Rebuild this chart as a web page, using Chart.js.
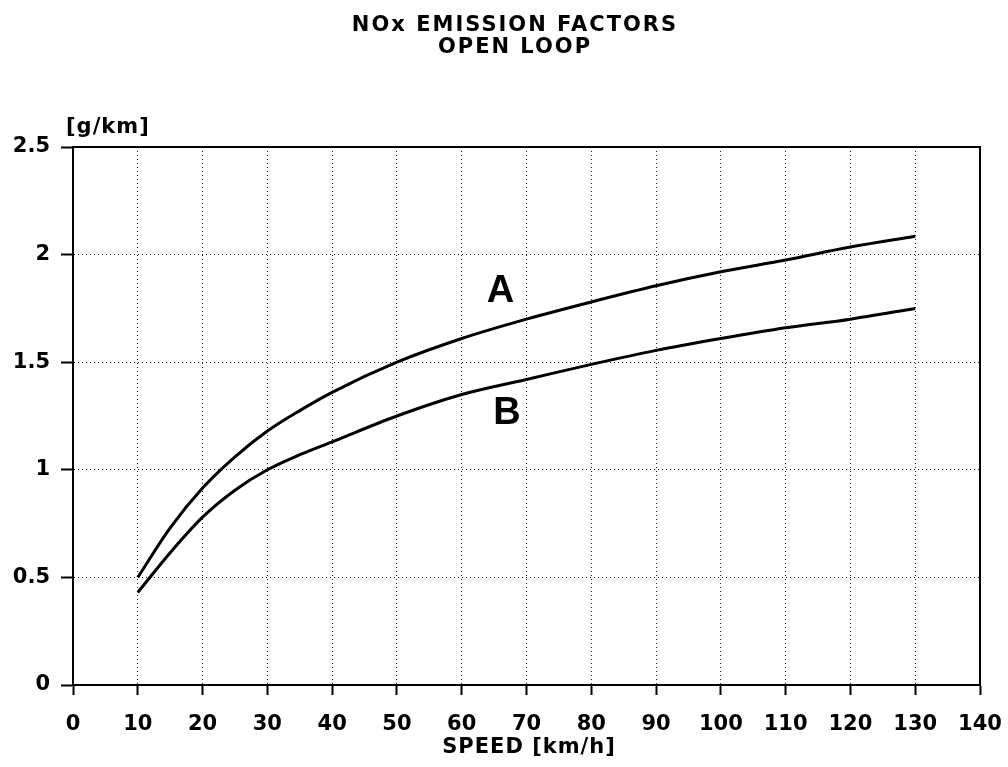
<!DOCTYPE html>
<html><head><meta charset="utf-8">
<script src="https://cdn.jsdelivr.net/npm/chart.js@4.4.0/dist/chart.umd.min.js"></script>
<style>html,body{margin:0;padding:0;background:#fff}#wrap{width:1008px;height:767px;position:relative}</style>
</head><body><div id="wrap"><canvas id="c"></canvas></div>
<script>
const speeds = [10, 15, 20, 25, 30, 35, 40, 50, 60, 70, 80, 90, 100, 110, 120, 130];
const curveA = [0.50, 0.73, 0.915, 1.06, 1.18, 1.275, 1.36, 1.50, 1.61, 1.70, 1.78, 1.855, 1.92, 1.975, 2.035, 2.085];
const curveB = [0.43, 0.615, 0.78, 0.905, 1.00, 1.07, 1.13, 1.25, 1.35, 1.42, 1.49, 1.555, 1.61, 1.66, 1.70, 1.75];
const xTicks = [0, 10, 20, 30, 40, 50, 60, 70, 80, 90, 100, 110, 120, 130, 140];
const yTicks = [0, 0.5, 1, 1.5, 2, 2.5];
const titleLines = ['NOx EMISSION FACTORS', 'OPEN LOOP'];
const xTitle = 'SPEED [km/h]';
const yTitle = '[g/km]';
const curveLabels = ['A', 'B'];
const curveLabelX = [66, 67];
const curveLabelY = [1.83, 1.26];

const FONT = '"DejaVu Sans", "Liberation Sans", Arial, sans-serif';

const textPlugin = {
  id: 'texts',
  afterDraw(chart) {
    const ctx = chart.ctx;
    const a = chart.chartArea;
    const xs = chart.scales.x, ys = chart.scales.y;
    ctx.save();
    ctx.setLineDash([]);
    ctx.strokeStyle = '#000';
    ctx.lineWidth = 2;
    ctx.strokeRect(a.left, a.top, a.right - a.left, a.bottom - a.top);
    ctx.fillStyle = '#000';
    ctx.textAlign = 'center';
    ctx.textBaseline = 'middle';
    ctx.font = 'bold 21px ' + FONT;
    try { ctx.letterSpacing = '2px'; } catch (e) {}
    ctx.fillText(titleLines[0], 515, 26);
    ctx.fillText(titleLines[1], 515, 48);
    try { ctx.letterSpacing = '1px'; } catch (e) {}
    ctx.fillText(xTitle, 529, 748);
    ctx.textAlign = 'left';
    ctx.fillText(yTitle, 66, 128);
    try { ctx.letterSpacing = '0px'; } catch (e) {}
    ctx.textAlign = 'center';
    ctx.font = 'bold 38px "Liberation Sans", Arial, sans-serif';
    for (let i = 0; i < curveLabels.length; i++) {
      ctx.fillText(curveLabels[i], xs.getPixelForValue(curveLabelX[i]), ys.getPixelForValue(curveLabelY[i]));
    }
    ctx.restore();
  }
};

const gridCommon = {
  color: '#222',
  lineWidth: 1,
  tickColor: '#000',
  tickBorderDash: [0, 0],
  tickWidth: 2
};
const borderCommon = { display: true, color: '#000', width: 2, dash: [1, 3] };

new Chart(document.getElementById('c'), {
  type: 'line',
  data: {
    datasets: [
      { label: 'A', data: speeds.map((s, i) => ({ x: s, y: curveA[i] })), borderColor: '#000', borderWidth: 3, pointRadius: 0, fill: false, cubicInterpolationMode: 'monotone' },
      { label: 'B', data: speeds.map((s, i) => ({ x: s, y: curveB[i] })), borderColor: '#000', borderWidth: 3, pointRadius: 0, fill: false, cubicInterpolationMode: 'monotone' }
    ]
  },
  options: {
    responsive: true,
    maintainAspectRatio: false,
    animation: false,
    layout: { padding: { top: 147, right: 28, left: 0, bottom: 0 } },
    plugins: { legend: { display: false }, title: { display: false }, tooltip: { enabled: false } },
    scales: {
      x: {
        type: 'linear', min: 0, max: 140,
        afterBuildTicks: s => { s.ticks = xTicks.map(v => ({ value: v })); },
        afterFit: s => { s.height = 82; s.paddingLeft = 0; s.paddingRight = 0; },
        ticks: { color: '#000', font: { family: FONT, size: 21, weight: 'bold' }, padding: 17, maxRotation: 0, autoSkip: false },
        grid: Object.assign({}, gridCommon, { tickLength: 10 }),
        border: borderCommon
      },
      y: {
        type: 'linear', min: 0, max: 2.5,
        afterBuildTicks: s => { s.ticks = yTicks.map(v => ({ value: v })); },
        afterFit: s => { s.width = 73; s.paddingTop = 0; s.paddingBottom = 0; },
        ticks: { color: '#000', font: { family: FONT, size: 21, weight: 'bold' }, padding: 11, callback: v => String(v) },
        grid: Object.assign({}, gridCommon, { tickLength: 12 }),
        border: borderCommon
      }
    }
  },
  plugins: [textPlugin]
});
</script>
</body></html>
